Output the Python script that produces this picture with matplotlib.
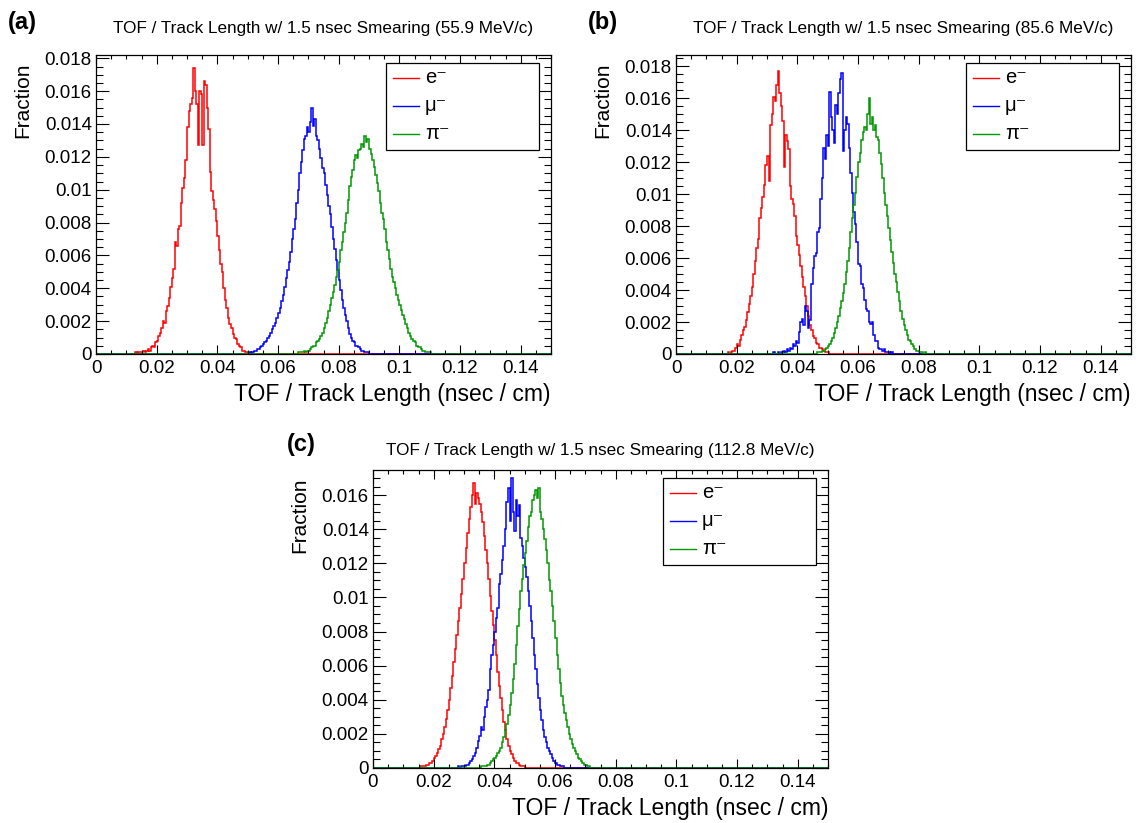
import matplotlib
matplotlib.use("Agg")
import matplotlib.pyplot as plt
from matplotlib.ticker import MultipleLocator, FuncFormatter
from matplotlib.patches import Rectangle
import numpy as np

plt.rcParams['font.family'] = ['Liberation Sans', 'DejaVu Sans']

# histogram binning (fraction per 0.0005 nsec/cm bin)
bin_width = 0.0005
x_max = 0.15

# panel (a) 55.9 MeV/c
a_e_start = 0.0125
a_e = [0, 0.0001, 0, 0.0001, 0.0001, 0.0001, 0.0002, 0.0001, 0.0002, 0.0003,
       0.0002, 0.0004, 0.0005, 0.0004, 0.0007, 0.0008, 0.0011, 0.0013, 0.0016, 0.0020,
       0.0019, 0.0026, 0.0029, 0.0034, 0.0041, 0.0046, 0.0052, 0.0068, 0.0066, 0.0076,
       0.0078, 0.0092, 0.0101, 0.0107, 0.0118, 0.0138, 0.0148, 0.0152, 0.0156, 0.0174,
       0.0160, 0.0152, 0.0127, 0.0160, 0.0158, 0.0127, 0.0166, 0.0164, 0.0150, 0.0137,
       0.0111, 0.0099, 0.0094, 0.0088, 0.0081, 0.0072, 0.0063, 0.0055, 0.0050, 0.0040,
       0.0033, 0.0028, 0.0022, 0.0018, 0.0016, 0.0012, 0.0010, 0.0009, 0.0006, 0.0005,
       0.0004, 0.0002, 0.0002, 0.0001, 0.0001, 0]
a_mu_start = 0.050
a_mu = [0, 0.0001, 0, 0.0001, 0.0002, 0.0002, 0.0003, 0.0003, 0.0004, 0.0005,
        0.0006, 0.0007, 0.0008, 0.0010, 0.0011, 0.0013, 0.0015, 0.0017, 0.0019, 0.0022,
        0.0025, 0.0028, 0.0032, 0.0036, 0.0041, 0.0046, 0.0051, 0.0056, 0.0062, 0.0070,
        0.0076, 0.0082, 0.0092, 0.0100, 0.0110, 0.0117, 0.0124, 0.0131, 0.0133, 0.0138,
        0.0135, 0.0141, 0.0150, 0.0139, 0.0143, 0.0133, 0.0130, 0.0125, 0.0119, 0.0113,
        0.0110, 0.0103, 0.0097, 0.0090, 0.0085, 0.0077, 0.0070, 0.0064, 0.0057, 0.0051,
        0.0045, 0.0039, 0.0033, 0.0028, 0.0024, 0.0020, 0.0016, 0.0012, 0.0010, 0.0008,
        0.0007, 0.0005, 0.0005, 0.0004, 0.0003, 0.0002, 0.0002, 0.0001, 0.0001, 0.0001, 0]
a_pi_start = 0.066
a_pi = [0, 0.0001, 0.0001, 0.0001, 0.0001, 0.0002, 0.0001, 0.0002, 0.0002, 0.0003,
        0.0004, 0.0005, 0.0005, 0.0007, 0.0008, 0.0009, 0.0011, 0.0013, 0.0016, 0.0019,
        0.0022, 0.0026, 0.0030, 0.0034, 0.0038, 0.0042, 0.0047, 0.0051, 0.0056, 0.0063,
        0.0068, 0.0074, 0.0080, 0.0086, 0.0094, 0.0102, 0.0108, 0.0112, 0.0118, 0.0121,
        0.0119, 0.0124, 0.0125, 0.0128, 0.0126, 0.0133, 0.0129, 0.0131, 0.0125, 0.0122,
        0.0118, 0.0114, 0.0109, 0.0104, 0.0099, 0.0092, 0.0086, 0.0082, 0.0076, 0.0068,
        0.0063, 0.0058, 0.0052, 0.0047, 0.0044, 0.0040, 0.0036, 0.0033, 0.0030, 0.0027,
        0.0024, 0.0021, 0.0018, 0.0016, 0.0013, 0.0011, 0.0009, 0.0008, 0.0007, 0.0005,
        0.0004, 0.0004, 0.0003, 0.0002, 0.0002, 0.0001, 0.0001, 0.0001, 0.0001, 0]

# panel (b) 85.6 MeV/c
b_e_start = 0.0165
b_e = [0, 0.0001, 0, 0.0001, 0.0002, 0.0002, 0.0004, 0.0006, 0.0005, 0.0009,
       0.0012, 0.0015, 0.0017, 0.0021, 0.0026, 0.0031, 0.0036, 0.0042, 0.0050, 0.0058,
       0.0066, 0.0072, 0.0085, 0.0091, 0.0098, 0.0106, 0.0118, 0.0124, 0.0108, 0.0143,
       0.0150, 0.0161, 0.0158, 0.0168, 0.0177, 0.0163, 0.0155, 0.0146, 0.0117, 0.0137,
       0.0133, 0.0128, 0.0105, 0.0097, 0.0094, 0.0086, 0.0074, 0.0068, 0.0062, 0.0055,
       0.0048, 0.0042, 0.0036, 0.0030, 0.0024, 0.0018, 0.0015, 0.0011, 0.0010, 0.0007,
       0.0006, 0.0004, 0.0004, 0.0003, 0.0002, 0.0001, 0.0001, 0.0001, 0]
b_mu_start = 0.0315
b_mu = [0, 0.0001, 0, 0, 0.0001, 0, 0.0001, 0.0001, 0.0002, 0.0001,
        0.0003, 0.0002, 0.0004, 0.0003, 0.0006, 0.0005, 0.0008, 0.0007, 0.0014, 0.0020,
        0.0022, 0.0018, 0.0030, 0.0027, 0.0016, 0.0021, 0.0044, 0.0054, 0.0061, 0.0063,
        0.0076, 0.0079, 0.0097, 0.0110, 0.0129, 0.0122, 0.0137, 0.0130, 0.0164, 0.0148,
        0.0140, 0.0132, 0.0156, 0.0150, 0.0163, 0.0172, 0.0176, 0.0127, 0.0140, 0.0148,
        0.0144, 0.0129, 0.0113, 0.0101, 0.0089, 0.0081, 0.0070, 0.0056, 0.0055, 0.0044,
        0.0041, 0.0034, 0.0028, 0.0027, 0.0020, 0.0019, 0.0020, 0.0012, 0.0008, 0.0008,
        0.0004, 0.0003, 0.0003, 0.0002, 0.0003, 0.0001, 0.0001, 0.0001, 0, 0.0001, 0]
b_pi_start = 0.046
b_pi = [0, 0.0001, 0.0001, 0.0001, 0.0002, 0.0002, 0.0003, 0.0004, 0.0005, 0.0006,
        0.0008, 0.0010, 0.0013, 0.0016, 0.0020, 0.0024, 0.0029, 0.0033, 0.0038, 0.0044,
        0.0051, 0.0058, 0.0066, 0.0076, 0.0085, 0.0093, 0.0101, 0.0111, 0.0120, 0.0126,
        0.0134, 0.0139, 0.0142, 0.0140, 0.0150, 0.0160, 0.0144, 0.0148, 0.0140, 0.0143,
        0.0136, 0.0134, 0.0126, 0.0119, 0.0110, 0.0101, 0.0093, 0.0086, 0.0079, 0.0071,
        0.0064, 0.0057, 0.0050, 0.0045, 0.0039, 0.0033, 0.0027, 0.0022, 0.0018, 0.0015,
        0.0012, 0.0009, 0.0008, 0.0006, 0.0005, 0.0003, 0.0002, 0.0002, 0.0001, 0.0001,
        0.0001, 0, 0.0001, 0]

# panel (c) 112.8 MeV/c
c_e_start = 0.015
c_e = [0, 0.0001, 0.0001, 0.0001, 0.0001, 0.0002, 0.0002, 0.0003, 0.0003, 0.0004,
       0.0006, 0.0007, 0.0009, 0.0011, 0.0013, 0.0017, 0.0020, 0.0024, 0.0029, 0.0034,
       0.0040, 0.0047, 0.0054, 0.0062, 0.0070, 0.0078, 0.0086, 0.0094, 0.0102, 0.0111,
       0.0120, 0.0129, 0.0138, 0.0146, 0.0153, 0.0160, 0.0167, 0.0155, 0.0161, 0.0158,
       0.0155, 0.0150, 0.0144, 0.0136, 0.0128, 0.0120, 0.0111, 0.0101, 0.0092, 0.0084,
       0.0075, 0.0066, 0.0056, 0.0048, 0.0041, 0.0034, 0.0027, 0.0022, 0.0017, 0.0013,
       0.0010, 0.0008, 0.0006, 0.0004, 0.0003, 0.0003, 0.0002, 0.0001, 0.0001, 0.0001, 0]
c_mu_start = 0.0275
c_mu = [0, 0.0001, 0, 0.0001, 0.0001, 0.0001, 0.0002, 0.0002, 0.0003, 0.0004,
        0.0005, 0.0007, 0.0009, 0.0012, 0.0016, 0.0019, 0.0024, 0.0022, 0.0030, 0.0036,
        0.0040, 0.0046, 0.0058, 0.0066, 0.0072, 0.0080, 0.0088, 0.0094, 0.0108, 0.0114,
        0.0122, 0.0130, 0.0140, 0.0156, 0.0164, 0.0145, 0.0170, 0.0150, 0.0139, 0.0157,
        0.0148, 0.0154, 0.0135, 0.0130, 0.0123, 0.0118, 0.0112, 0.0104, 0.0095, 0.0086,
        0.0076, 0.0066, 0.0058, 0.0049, 0.0041, 0.0034, 0.0028, 0.0022, 0.0018, 0.0015,
        0.0012, 0.0010, 0.0008, 0.0006, 0.0004, 0.0003, 0.0002, 0.0002, 0.0001, 0.0001,
        0.0001, 0]
c_pi_start = 0.035
c_pi = [0, 0.0001, 0.0001, 0.0001, 0.0001, 0.0002, 0.0002, 0.0003, 0.0004, 0.0005,
        0.0006, 0.0007, 0.0009, 0.0010, 0.0012, 0.0015, 0.0018, 0.0022, 0.0026, 0.0031,
        0.0037, 0.0044, 0.0052, 0.0061, 0.0072, 0.0083, 0.0093, 0.0104, 0.0111, 0.0119,
        0.0126, 0.0133, 0.0141, 0.0148, 0.0150, 0.0157, 0.0160, 0.0163, 0.0158, 0.0164,
        0.0150, 0.0146, 0.0140, 0.0134, 0.0128, 0.0120, 0.0110, 0.0104, 0.0095, 0.0086,
        0.0076, 0.0066, 0.0058, 0.0050, 0.0042, 0.0037, 0.0032, 0.0028, 0.0024, 0.0020,
        0.0017, 0.0014, 0.0012, 0.0010, 0.0008, 0.0006, 0.0005, 0.0004, 0.0003, 0.0002,
        0.0002, 0.0001, 0.0001, 0]

panel_tags = ['a', 'b', 'c']
momenta = ['55.9', '85.6', '112.8']
y_tops = [0.0182, 0.0187, 0.01747]
particles = ['e\u207b', '\u03bc\u207b', '\u03c0\u207b']
colors = ['#ff0000', '#0000ff', '#009900']

panels = [
    [(a_e_start, a_e), (a_mu_start, a_mu), (a_pi_start, a_pi)],
    [(b_e_start, b_e), (b_mu_start, b_mu), (b_pi_start, b_pi)],
    [(c_e_start, c_e), (c_mu_start, c_mu), (c_pi_start, c_pi)],
]

W, H = 1138, 823
fig = plt.figure(figsize=(W / 100, H / 100), dpi=100)

# axes boxes in pixels: left, top, right, bottom
boxes = [(96, 55, 551, 354), (676, 55, 1131, 354), (373, 470, 828, 768)]
tag_pos = [(8, 22), (588, 22), (287, 444)]
title_pads = [16, 16, 11]

nbins = int(round(x_max / bin_width))
edges = np.linspace(0, x_max, nbins + 1)


def fmt(v, pos):
    return '%g' % round(v, 4)


for i in range(3):
    l, t, r, b = boxes[i]
    ax = fig.add_axes([l / W, (H - b) / H, (r - l) / W, (b - t) / H])
    for (start, vals), col in zip(panels[i], colors):
        full = np.zeros(nbins)
        k = int(round(start / bin_width))
        full[k:k + len(vals)] = vals
        ax.stairs(full, edges, color=col, lw=1.1)
    ax.set_xlim(0, x_max)
    ax.set_ylim(0, y_tops[i])
    ax.xaxis.set_major_locator(MultipleLocator(0.02))
    ax.xaxis.set_minor_locator(MultipleLocator(0.005))
    ax.yaxis.set_major_locator(MultipleLocator(0.002))
    ax.yaxis.set_minor_locator(MultipleLocator(0.0005))
    ax.xaxis.set_major_formatter(FuncFormatter(fmt))
    ax.yaxis.set_major_formatter(FuncFormatter(fmt))
    ax.tick_params(which='both', direction='in', top=True, right=True, labelsize=13.5, width=0.8)
    ax.tick_params(axis='x', which='major', length=6.5, pad=4)
    ax.tick_params(axis='x', which='minor', length=3.2)
    ax.tick_params(axis='y', which='major', length=9.4, pad=3)
    ax.tick_params(axis='y', which='minor', length=4.7)
    for sp in ax.spines.values():
        sp.set_linewidth(0.9)
    ax.set_xlabel('TOF / Track Length (nsec / cm)', fontsize=16.5, loc='right')
    ax.xaxis.set_label_coords(1.0, -0.097)
    ax.set_ylabel('Fraction', fontsize=15, loc='top')
    ax.yaxis.set_label_coords(-0.14, 0.975)
    ax.set_title('TOF / Track Length w/ 1.5 nsec Smearing (%s MeV/c)' % momenta[i],
                 fontsize=12.3, pad=title_pads[i])

    # legend box
    ax.add_patch(Rectangle((0.637, 0.682), 0.337, 0.291, transform=ax.transAxes,
                           facecolor='white', edgecolor='black', lw=0.9, zorder=5))
    for j, (lab, col) in enumerate(zip(particles, colors)):
        yy = [0.924, 0.830, 0.736][j]
        ax.plot([0.653, 0.710], [yy, yy], color=col, lw=1.0, transform=ax.transAxes, zorder=6)
        ax.text(0.723, yy, lab, fontsize=14.5, va='center', ha='left',
                transform=ax.transAxes, zorder=6)

    tx, ty = tag_pos[i]
    fig.text(tx / W, 1 - ty / H, '(' + panel_tags[i] + ')', fontsize=17, fontweight='bold',
             va='center', ha='left')

fig.savefig('out.png', dpi=100)
